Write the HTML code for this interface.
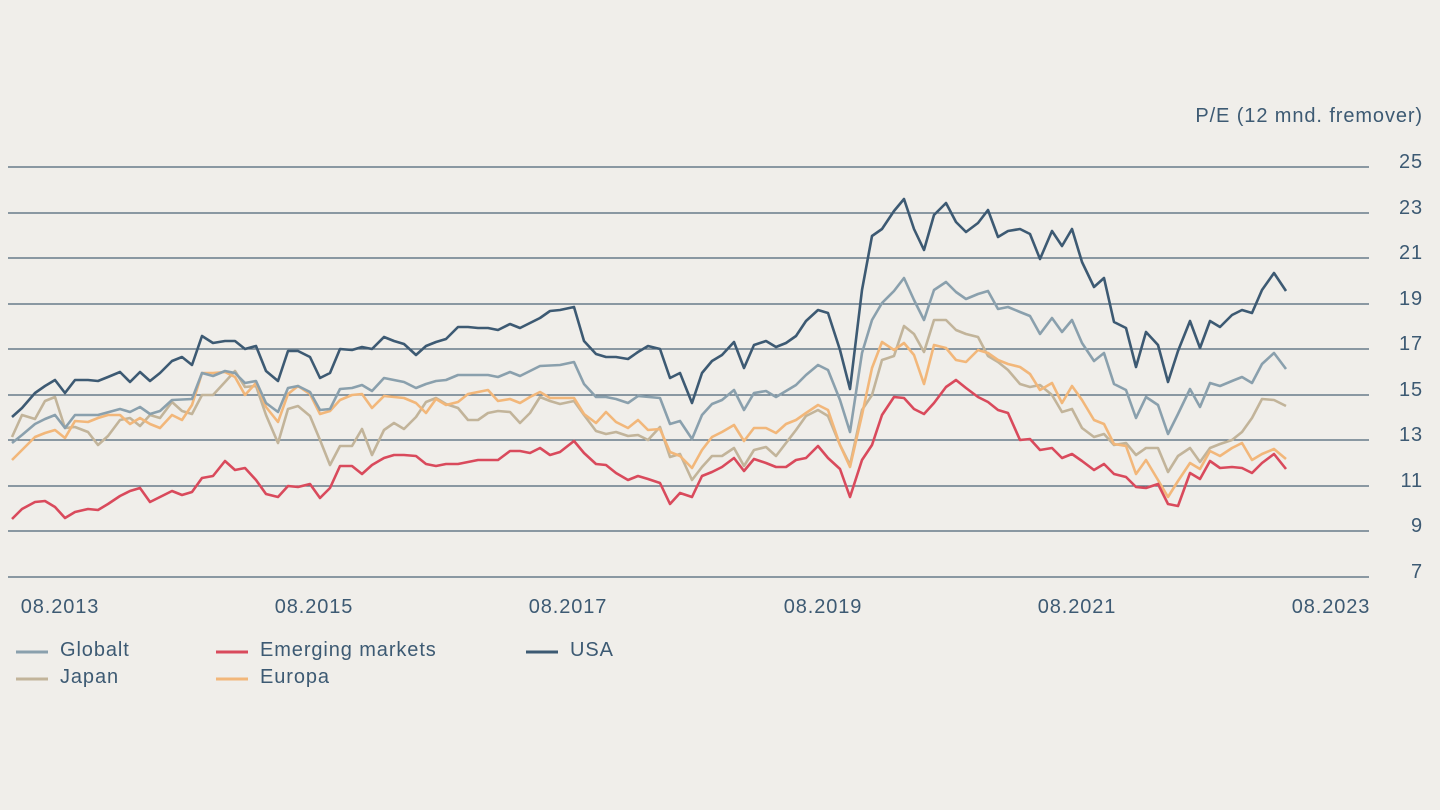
<!DOCTYPE html>
<html><head><meta charset="utf-8"><style>
html,body{margin:0;padding:0;background:#f0eeea;}
svg{display:block;}
text{font-family:"Liberation Sans",sans-serif;fill:#3d5a73;font-size:20px;letter-spacing:0.9px;}
</style></head><body>
<svg width="1440" height="810" viewBox="0 0 1440 810">
<rect width="1440" height="810" fill="#f0eeea"/>
<g stroke="#4e6578" stroke-width="1.2">
<line x1="8" x2="1369" y1="167" y2="167"/><line x1="8" x2="1369" y1="213" y2="213"/>
<line x1="8" x2="1369" y1="258" y2="258"/><line x1="8" x2="1369" y1="304" y2="304"/>
<line x1="8" x2="1369" y1="349" y2="349"/><line x1="8" x2="1369" y1="395" y2="395"/>
<line x1="8" x2="1369" y1="440" y2="440"/><line x1="8" x2="1369" y1="486" y2="486"/>
<line x1="8" x2="1369" y1="531" y2="531"/><line x1="8" x2="1369" y1="577" y2="577"/>
</g>
<text x="1423" y="122" text-anchor="end">P/E (12 mnd. fremover)</text>
<g text-anchor="end" style="font-size:21px">
<text x="1423" y="168">25</text><text x="1423" y="214">23</text><text x="1423" y="259">21</text>
<text x="1423" y="305">19</text><text x="1423" y="350">17</text><text x="1423" y="396">15</text>
<text x="1423" y="441">13</text><text x="1423" y="487">11</text><text x="1423" y="532">9</text>
<text x="1423" y="578">7</text>
</g>
<g text-anchor="middle" style="font-size:21px">
<text x="60" y="613">08.2013</text><text x="314" y="613">08.2015</text><text x="568" y="613">08.2017</text>
<text x="823" y="613">08.2019</text><text x="1077" y="613">08.2021</text><text x="1331" y="613">08.2023</text>
</g>
<g fill="none" stroke-width="2.6" stroke-linejoin="round">
<polyline stroke="#c2b49a" points="12,437 22,415 35,419 45,401 55,397 65,428 75,427 88,432 98,445 108,436 120,420 130,418 140,426 150,415 160,418 172,402 182,411 192,414 202,395 213,395 225,382 235,371 245,387 256,386 266,415 278,443 288,409 298,406 310,416 320,440 330,465 340,446 352,446 362,429 372,455 384,430 394,423 404,429 416,417 426,402 436,398 446,404 458,408 468,420 478,420 488,413 498,411 510,412 520,423 530,413 540,397 550,401 560,404 574,401 584,415 596,431 606,434 616,432 628,436 638,435 648,440 660,427 670,457 680,454 692,480 702,467 712,456 722,456 734,448 744,466 754,450 766,447 776,456 786,443 796,430 806,416 818,410 828,416 840,445 850,465 862,410 872,395 882,360 894,356 904,326 914,334 924,352 934,320 946,320 956,330 966,334 978,337 988,356 998,362 1008,370 1020,384 1030,387 1040,385 1052,395 1062,412 1072,409 1082,428 1094,437 1104,434 1114,445 1126,443 1136,455 1146,448 1158,448 1168,472 1178,456 1190,448 1200,462 1210,448 1220,444 1232,440 1242,432 1252,418 1262,399 1274,400 1286,406"/>
<polyline stroke="#f2b77a" points="12,460 22,450 35,437 45,433 55,430 65,438 75,421 88,422 98,418 108,415 120,415 130,424 140,418 150,424 160,428 172,415 182,420 192,405 202,373 213,373 225,372 235,377 245,395 256,383 266,407 278,422 288,394 298,386 310,394 320,414 330,411 340,400 352,395 362,394 372,408 384,396 404,398 416,403 426,413 436,399 446,405 458,402 468,394 478,392 488,390 498,401 510,399 520,403 530,397 540,392 550,398 560,398 574,398 584,414 596,423 606,412 616,422 628,428 638,420 648,430 660,429 670,452 680,456 692,468 702,450 712,437 722,432 734,425 744,441 754,428 766,428 776,433 786,424 796,420 806,413 818,405 828,410 840,445 850,467 862,415 872,368 882,342 894,350 904,343 914,355 924,384 934,345 946,348 956,360 966,362 978,350 988,353 998,360 1008,364 1020,367 1030,374 1040,390 1052,383 1062,403 1072,386 1082,400 1094,420 1104,424 1114,444 1126,446 1136,474 1146,460 1158,480 1168,497 1178,481 1190,463 1200,469 1210,451 1220,456 1232,448 1242,443 1252,460 1262,454 1274,449 1286,459"/>
<polyline stroke="#d94a5c" points="12,519 22,509 35,502 45,501 55,507 65,518 75,512 88,509 98,510 108,504 120,496 130,491 140,488 150,502 160,497 172,491 182,495 192,492 202,478 213,476 225,461 235,470 245,468 256,480 266,494 278,497 288,486 298,487 310,484 320,498 330,488 340,466 352,466 362,474 372,465 384,458 394,455 404,455 416,456 426,464 436,466 446,464 458,464 468,462 478,460 488,460 498,460 510,451 520,451 530,453 540,448 550,455 560,452 574,441 584,453 596,464 606,465 616,473 628,480 638,476 648,479 660,483 670,504 680,493 692,497 702,476 712,472 722,467 734,458 744,471 754,459 766,463 776,467 786,467 796,460 806,458 818,446 828,458 840,469 850,497 862,460 872,445 882,415 894,397 904,398 914,409 924,414 934,403 946,387 956,380 966,388 978,397 988,402 998,410 1008,413 1020,440 1030,439 1040,450 1052,448 1062,458 1072,454 1082,461 1094,470 1104,464 1114,474 1126,477 1136,487 1146,488 1158,484 1168,504 1178,506 1190,473 1200,479 1210,461 1220,468 1232,467 1242,468 1252,473 1262,463 1274,454 1286,469"/>
<polyline stroke="#8aa0ad" points="12,443 22,435 35,424 45,419 55,415 65,428 75,415 98,415 120,409 130,412 140,407 150,414 160,411 172,400 192,399 202,373 213,376 225,371 235,373 245,383 256,381 266,403 278,412 288,388 298,386 310,392 320,410 330,409 340,389 352,388 362,385 372,391 384,378 404,382 416,388 426,384 436,381 446,380 458,375 488,375 498,377 510,372 520,376 530,371 540,366 560,365 574,362 584,384 596,397 606,397 616,399 628,403 638,396 660,398 670,424 680,421 692,439 702,415 712,404 722,400 734,390 744,410 754,393 766,391 776,397 786,391 796,385 806,375 818,365 828,370 840,400 850,432 862,353 872,320 882,303 894,291 904,278 914,300 924,320 934,290 946,282 956,292 966,299 978,294 988,291 998,309 1008,307 1020,312 1030,316 1040,334 1052,318 1062,332 1072,320 1082,343 1094,361 1104,353 1114,384 1126,390 1136,418 1146,397 1158,405 1168,434 1178,414 1190,389 1200,407 1210,383 1220,386 1232,381 1242,377 1252,383 1262,364 1274,353 1286,369"/>
<polyline stroke="#3d5a73" points="12,417 22,408 35,393 45,386 55,380 65,393 75,380 88,380 98,381 108,377 120,372 130,382 140,372 150,381 160,373 172,361 182,357 192,365 202,336 213,343 225,341 235,341 245,349 256,346 266,371 278,381 288,351 298,351 310,357 320,378 330,373 340,349 352,350 362,347 372,349 384,337 394,341 404,344 416,355 426,346 436,342 446,339 458,327 468,327 478,328 488,328 498,330 510,324 520,328 530,323 540,318 550,311 560,310 574,307 584,341 596,354 606,357 616,357 628,359 638,352 648,346 660,349 670,378 680,373 692,403 702,373 712,361 722,355 734,342 744,368 754,345 766,341 776,347 786,343 796,336 806,321 818,310 828,313 840,350 850,389 862,290 872,236 882,229 894,211 904,199 914,229 924,250 934,215 946,203 956,222 966,232 978,223 988,210 998,237 1008,231 1020,229 1030,234 1040,259 1052,231 1062,246 1072,229 1082,262 1094,287 1104,278 1114,322 1126,328 1136,367 1146,332 1158,345 1168,382 1178,351 1190,321 1200,348 1210,321 1220,327 1232,315 1242,310 1252,313 1262,290 1274,273 1286,291"/>
</g>
<g stroke-width="3">
<line x1="16" x2="48" y1="652" y2="652" stroke="#8aa0ad"/>
<line x1="16" x2="48" y1="679" y2="679" stroke="#c2b49a"/>
<line x1="216" x2="248" y1="652" y2="652" stroke="#d94a5c"/>
<line x1="216" x2="248" y1="679" y2="679" stroke="#f2b77a"/>
<line x1="526" x2="558" y1="652" y2="652" stroke="#3d5a73"/>
</g>
<text x="60" y="656">Globalt</text>
<text x="60" y="683">Japan</text>
<text x="260" y="656">Emerging markets</text>
<text x="260" y="683">Europa</text>
<text x="570" y="656">USA</text>
</svg>
</body></html>
